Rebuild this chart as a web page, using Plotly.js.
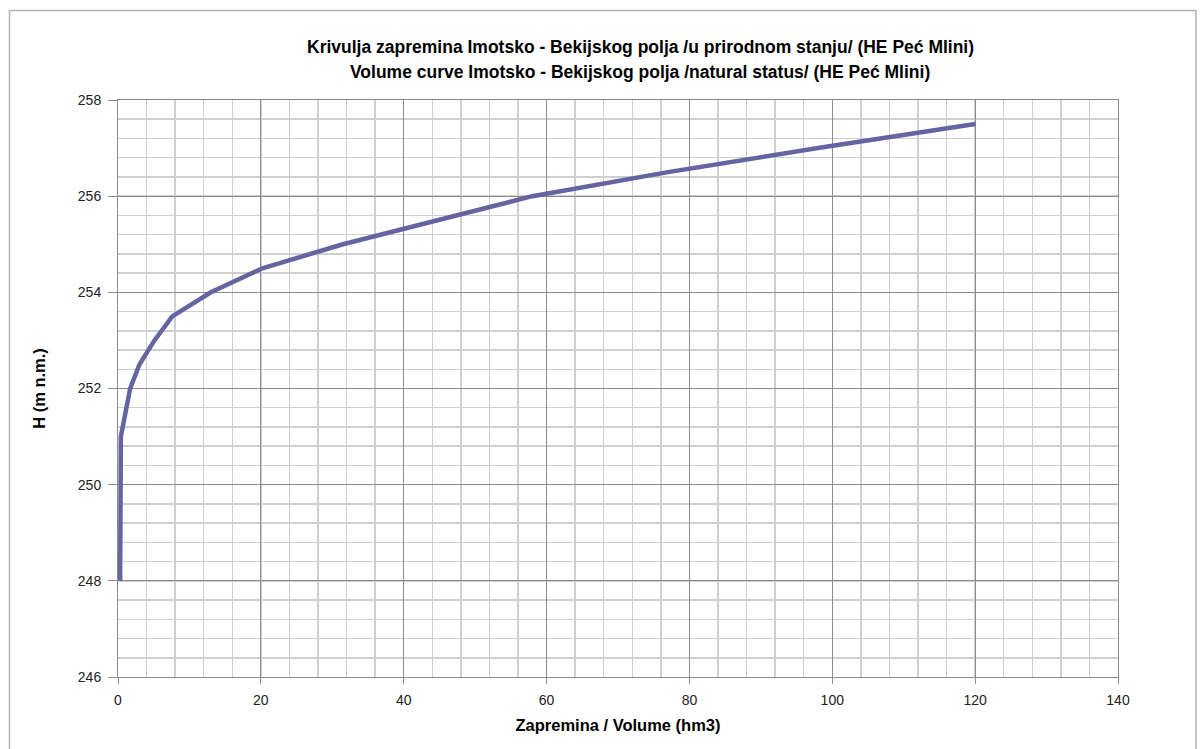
<!DOCTYPE html>
<html>
<head>
<meta charset="utf-8">
<script src="https://cdn.plot.ly/plotly-3.0.1.min.js"></script>
<style>
html,body{margin:0;padding:0;background:#fff;}
#chart{width:1200px;height:749px;}
</style>
</head>
<body>
<div id="chart"></div>
<script>
// Volume (hm3) vs water level H (m n.m.)
const volume = [0.3, 0.4, 1.7, 3.0, 5.1, 7.6, 13.0, 20.2, 31.5, 45.0, 58.0, 77.0, 98.0, 120.0];
const level  = [248.0, 251.0, 252.0, 252.5, 253.0, 253.5, 254.0, 254.5, 255.0, 255.5, 256.0, 256.5, 257.0, 257.5];
const xTicks = [0, 20, 40, 60, 80, 100, 120, 140];
const yTicks = [246, 248, 250, 252, 254, 256, 258];
const titleLines = ["Krivulja zapremina Imotsko - Bekijskog polja /u prirodnom stanju/ (HE Peć Mlini)",
                    "Volume curve Imotsko - Bekijskog polja /natural status/ (HE Peć Mlini)"];
const xTitle = "Zapremina / Volume (hm3)";
const yTitle = "H (m n.m.)";

const W = 1200, H = 749;
const L = 118, R = 1118, T = 100, B = 677;
const px = v => (v - L) / (R - L);
const py = v => (B - v) / (B - T);

const trace = {
  x: volume, y: level, type: 'scatter', mode: 'lines',
  line: {color: '#6464a0', width: 4.5},
  hoverinfo: 'x+y', showlegend: false
};

const tickFont = {family: 'Liberation Sans, Arial, sans-serif', size: 14, color: '#222'};
const narrow = 'Liberation Sans Narrow, Liberation Sans, Arial, sans-serif';
const titleFont = {family: narrow, size: 17.5, color: '#000', weight: 'bold'};

const layout = {
  width: W, height: H,
  margin: {l: L, r: W - R, t: T, b: H - B, pad: 0},
  paper_bgcolor: '#fff', plot_bgcolor: '#fff',
  showlegend: false,
  xaxis: {
    range: [0, 140], tickvals: xTicks, ticktext: xTicks.map(String),
    showline: true, linecolor: '#8c8c8c', linewidth: 1, mirror: true,
    showgrid: true, gridcolor: '#8c8c8c', gridwidth: 1,
    ticks: 'outside', ticklen: 6, tickcolor: '#8c8c8c',
    tickfont: tickFont, zeroline: false, ticklabelstandoff: 4,
    minor: {dtick: 4, tick0: 0, showgrid: true, gridcolor: '#cfcfcf', gridwidth: 1.5, ticks: ''},
    title: {text: xTitle, font: {family: narrow, size: 16.5, color: '#000', weight: 'bold'}, standoff: 12}
  },
  yaxis: {
    range: [246, 258], tickvals: yTicks, ticktext: yTicks.map(String),
    showline: true, linecolor: '#8c8c8c', linewidth: 1, mirror: true,
    showgrid: true, gridcolor: '#8c8c8c', gridwidth: 1,
    ticks: 'outside', ticklen: 9, tickcolor: '#8c8c8c',
    tickfont: tickFont, zeroline: false, ticklabelstandoff: 4,
    minor: {dtick: 0.4, tick0: 246, showgrid: true, gridcolor: '#cfcfcf', gridwidth: 1.5, ticks: ''},
    title: {text: yTitle, font: {family: narrow, size: 16.5, color: '#000', weight: 'bold'}, standoff: 28}
  },
  annotations: [
    {text: titleLines[0], xref: 'paper', yref: 'paper', x: px(640), y: py(47), xanchor: 'center', yanchor: 'middle', showarrow: false, font: titleFont},
    {text: titleLines[1], xref: 'paper', yref: 'paper', x: px(640), y: py(72), xanchor: 'center', yanchor: 'middle', showarrow: false, font: titleFont}
  ],
  shapes: [
    {type: 'rect', xref: 'paper', yref: 'paper', x0: px(9.5), x1: px(1196), y0: py(800), y1: py(10.5),
     line: {color: '#b4b4b4', width: 1.5}, fillcolor: 'rgba(0,0,0,0)', layer: 'below'}
  ]
};

Plotly.newPlot('chart', [trace], layout, {displayModeBar: false, staticPlot: true});
</script>
</body>
</html>
